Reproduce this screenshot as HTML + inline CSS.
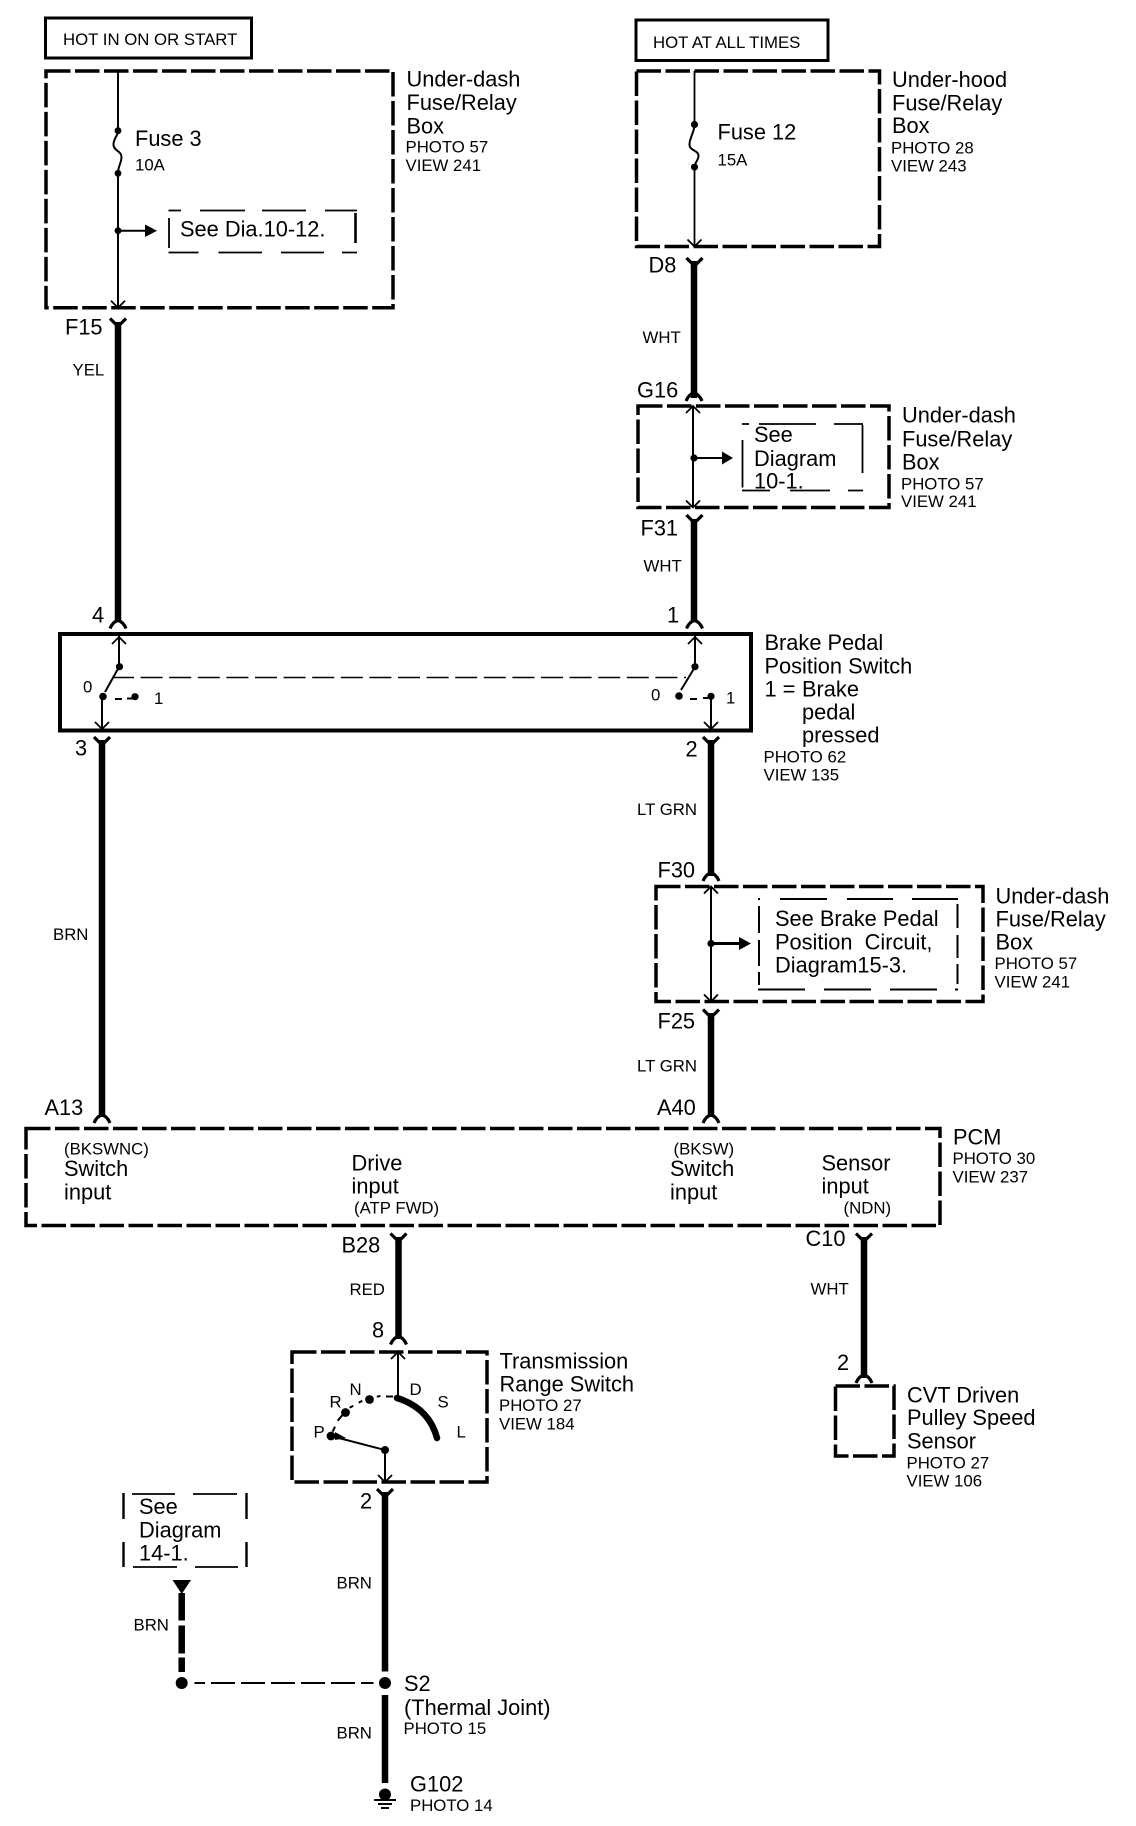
<!DOCTYPE html>
<html><head><meta charset="utf-8"><style>
html,body{margin:0;padding:0;background:#fff;width:1136px;height:1826px;overflow:hidden}
svg{display:block}
text{font-family:"Liberation Sans",sans-serif;fill:#000}
.l{font-size:21.8px}.s{font-size:16.8px}
.d{fill:none;stroke:#000;stroke-width:3.5;stroke-dasharray:24.5 4.5}
.t{fill:none;stroke:#000;stroke-width:2}
.w{fill:none;stroke:#000;stroke-width:6.5}
.c{fill:none;stroke:#000;stroke-width:3.2}
.n{fill:none;stroke:#000;stroke-width:1.8}
</style></head><body>
<svg width="1136" height="1826" viewBox="0 0 1136 1826" xmlns="http://www.w3.org/2000/svg">
<defs>
<path id="y" class="c" d="M-8,0 L0,8 L8,0"/>
<path id="a" class="c" d="M-8,8 Q-5,1 0,0 Q5,1 8,8"/>
<path id="vd" class="n" d="M-7,-7 L0,0 L7,-7"/>
<path id="vu" class="n" d="M-7,7 L0,0 L7,7"/>
</defs>

<!-- top left -->
<rect x="45.5" y="18" width="206" height="40" fill="none" stroke="#000" stroke-width="3"/>
<text class="s" x="63" y="45">HOT IN ON OR START</text>
<rect x="46" y="71" width="347" height="236.7" class="d"/>
<path class="t" d="M118,71V307.7"/>
<use href="#vd" x="118" y="307.7"/>
<circle cx="118" cy="130.7" r="3.4"/><circle cx="118" cy="173.3" r="3.4"/><circle cx="118" cy="230.7" r="3.4"/>
<path fill="#fff" d="M116,134h5v36h-5z"/>
<path class="t" d="M118,130.7 C118,136 113,139 113.5,145 C114,151 121.5,151 121.5,157 C121.5,163 118,166 118,173.3"/>
<path class="t" d="M118,230.7H148"/><path d="M145,224.5L157,230.7L145,237z"/>
<text class="l" x="135" y="146">Fuse 3</text>
<text class="s" x="135" y="170.5">10A</text>
<path class="n" d="M168.5,210.5H181M200,210.5H245M262,210.5H306M325,210.5H357M168.5,252.5H198.5M218.5,252.5H262M281,252.5H324M342,252.5H357"/>
<path class="n" d="M169,218V248"/><path stroke="#000" stroke-width="2.6" d="M355.5,213V243"/>
<text class="l" x="180" y="236.5">See Dia.10-12.</text>
<text class="l" x="406.5" y="86.5">Under-dash</text><text class="l" x="406.5" y="110">Fuse/Relay</text><text class="l" x="406.5" y="133.5">Box</text>
<text class="s" x="405.5" y="152.5">PHOTO 57</text><text class="s" x="405.5" y="171">VIEW 241</text>
<use href="#y" x="118" y="318.5"/>
<text class="l" x="65" y="334.5">F15</text>
<text class="s" x="72.5" y="375.5">YEL</text>
<path class="w" d="M118,322V622"/>
<use href="#a" x="118" y="620.5"/>
<text class="l" x="92" y="622.5">4</text>

<!-- top right -->
<rect x="636" y="20" width="192" height="40.5" fill="none" stroke="#000" stroke-width="3"/>
<text class="s" x="653" y="48">HOT AT ALL TIMES</text>
<rect x="636.5" y="71" width="243" height="175.5" class="d"/>
<path class="n" d="M694.5,71V246.5"/>
<use href="#vd" x="694.5" y="246.5"/>
<circle cx="694.5" cy="124.5" r="3.6"/><circle cx="694.5" cy="167" r="3.6"/>
<path fill="#fff" d="M692,128h5v36h-5z"/>
<path class="t" d="M694.5,124.5 C694.5,132 689,139 689.5,145 C690,151 698.5,150 698.5,156 C698.5,160 694.5,163 694.5,167"/>
<text class="l" x="717.5" y="139.5">Fuse 12</text>
<text class="s" x="717.5" y="165.5">15A</text>
<text class="l" x="892" y="87">Under-hood</text><text class="l" x="892" y="110.5">Fuse/Relay</text><text class="l" x="892" y="133">Box</text>
<text class="s" x="891" y="153.5">PHOTO 28</text><text class="s" x="891" y="171.5">VIEW 243</text>
<use href="#y" x="694.5" y="258"/>
<text class="l" x="648.5" y="272.5">D8</text>
<path class="w" d="M694,261V398"/>
<text class="s" x="642.5" y="343">WHT</text>
<use href="#a" x="694" y="393"/>
<text class="l" x="637" y="397.5">G16</text>
<rect x="638" y="406" width="251" height="101.5" class="d"/>
<path class="t" d="M693,406V507.5"/>
<use href="#vu" x="693" y="406"/><use href="#vd" x="693" y="507.5"/>
<circle cx="694" cy="458" r="3.6"/>
<path class="t" d="M694,458H724"/><path d="M722,451.5L733,458L722,464.5z"/>
<path class="n" d="M742,424H749M759,424H816M834,424H863M742,490.5H770M790,490.5H830M848,490.5H863"/>
<path class="n" d="M742.5,440V487.5M862.5,425V473"/>
<text class="l" x="754" y="442">See</text><text class="l" x="754" y="466">Diagram</text><text class="l" x="754" y="488.5">10-1.</text>
<text class="l" x="902" y="422.5">Under-dash</text><text class="l" x="902" y="446.5">Fuse/Relay</text><text class="l" x="902" y="469.5">Box</text>
<text class="s" x="901" y="489.5">PHOTO 57</text><text class="s" x="901" y="507">VIEW 241</text>
<use href="#y" x="694.5" y="515"/>
<text class="l" x="640.5" y="535.5">F31</text>
<path class="w" d="M694,519V622"/>
<text class="s" x="643.5" y="571.5">WHT</text>
<use href="#a" x="694.5" y="620.5"/>
<text class="l" x="667" y="622.5">1</text>

<!-- brake switch -->
<rect x="60" y="634" width="691" height="96.5" fill="none" stroke="#000" stroke-width="4"/>
<path class="t" d="M119,636V666"/><use href="#vu" x="119" y="637"/>
<circle cx="119.5" cy="666.7" r="3.6"/>
<path class="t" stroke-width="2.5" d="M119,667L105,692"/>
<circle cx="103" cy="696.5" r="3.8"/>
<path class="t" d="M102,697V729"/><use href="#vd" x="102" y="729"/>
<path class="t" stroke-width="2.5" d="M115,699H122M127,698.5H133"/><circle cx="135" cy="696.7" r="3.6"/>
<path stroke="#000" stroke-width="1.6" stroke-dasharray="22 6.6" d="M112,677.5H686"/>
<text class="s" x="83" y="692.5">0</text><text class="s" x="154" y="704">1</text>
<path class="t" d="M695,636V666"/><use href="#vu" x="695" y="637"/>
<circle cx="695" cy="666.7" r="3.6"/>
<path class="t" stroke-width="2.5" d="M695,667L681,690"/>
<circle cx="679" cy="696" r="3.8"/>
<path class="t" stroke-width="2.5" d="M690,699H697M703,698H708"/><circle cx="711" cy="696.3" r="3.6"/>
<path class="t" d="M711,696V729"/><use href="#vd" x="711" y="729"/>
<text class="s" x="651" y="700.5">0</text><text class="s" x="726" y="703.5">1</text>
<text class="l" x="764.5" y="650">Brake Pedal</text><text class="l" x="764.5" y="673.5">Position Switch</text>
<text class="l" x="764.5" y="696.5">1 =</text><text class="l" x="802" y="696.5">Brake</text>
<text class="l" x="802" y="719.5">pedal</text><text class="l" x="802" y="742.5">pressed</text>
<text class="s" x="763.5" y="762.5">PHOTO 62</text><text class="s" x="763.5" y="780.5">VIEW 135</text>

<!-- left lower wire -->
<use href="#y" x="102" y="737"/>
<text class="l" x="75" y="755.5">3</text>
<path class="w" d="M102,740V1117"/>
<text class="s" x="53" y="940">BRN</text>
<use href="#a" x="102" y="1115"/>
<text class="l" x="44.5" y="1115">A13</text>

<!-- right lower wire -->
<use href="#y" x="711" y="737"/>
<text class="l" x="685.5" y="756.5">2</text>
<path class="w" d="M711,740V876"/>
<text class="s" x="637" y="815">LT GRN</text>
<use href="#a" x="711" y="873"/>
<text class="l" x="657.5" y="877.5">F30</text>
<rect x="656" y="886.5" width="327" height="115" class="d"/>
<path class="t" d="M711,886.5V1001.5"/>
<use href="#vu" x="711" y="886.5"/><use href="#vd" x="711" y="1001.5"/>
<circle cx="711" cy="943.5" r="3.6"/>
<path stroke="#000" stroke-width="3" d="M711,943.5H742"/><path d="M739,937L751,943.5L739,950z"/>
<path class="t" d="M758,899H760M780,899H827M847,899H893M912,899H958M758,989.5H805M824,989.5H871M890,989.5H937M955,989.5H958"/>
<path class="t" d="M759,906V933M759,940V966M759,972V985"/>
<path class="t" d="M957.5,904V928M957.5,935V958M957.5,964V984"/>
<text class="l" x="775" y="926">See Brake Pedal</text>
<text class="l" x="775" y="949.5" xml:space="preserve">Position  Circuit,</text>
<text class="l" x="775" y="972.5">Diagram15-3.</text>
<text class="l" x="995.5" y="903.5">Under-dash</text><text class="l" x="995.5" y="926.5">Fuse/Relay</text><text class="l" x="995.5" y="949.5">Box</text>
<text class="s" x="994.5" y="969">PHOTO 57</text><text class="s" x="994.5" y="987.5">VIEW 241</text>
<use href="#y" x="711" y="1009.5"/>
<text class="l" x="657.5" y="1028.5">F25</text>
<path class="w" d="M711,1013V1117"/>
<text class="s" x="637" y="1071.5">LT GRN</text>
<use href="#a" x="711" y="1115"/>
<text class="l" x="657" y="1115">A40</text>

<!-- PCM -->
<rect x="26" y="1128.5" width="914" height="97" class="d"/>
<text class="s" x="64" y="1154.5">(BKSWNC)</text><text class="l" x="64" y="1176">Switch</text><text class="l" x="64" y="1199.5">input</text>
<text class="l" x="351.5" y="1170.5">Drive</text><text class="l" x="351.5" y="1193.5">input</text><text class="s" x="354" y="1213.5">(ATP FWD)</text>
<text class="s" x="673.5" y="1154.5">(BKSW)</text><text class="l" x="670" y="1176">Switch</text><text class="l" x="670" y="1199.5">input</text>
<text class="l" x="821.5" y="1170.5">Sensor</text><text class="l" x="821.5" y="1193.5">input</text><text class="s" x="843.5" y="1213.5">(NDN)</text>
<text class="l" x="953" y="1144.5">PCM</text><text class="s" x="952.5" y="1164">PHOTO 30</text><text class="s" x="952.5" y="1182.5">VIEW 237</text>

<!-- B28 wire -->
<use href="#y" x="398.5" y="1233.5"/>
<text class="l" x="341.5" y="1252.5">B28</text>
<path class="w" d="M398.5,1237V1339"/>
<text class="s" x="349.5" y="1295">RED</text>
<use href="#a" x="398.5" y="1336.5"/>
<text class="l" x="372" y="1337.5">8</text>

<!-- trans range -->
<rect x="292" y="1352" width="195" height="130" class="d"/>
<path class="t" d="M398,1352V1397"/><use href="#vu" x="398" y="1352"/>
<path class="w" stroke-width="7" stroke-linecap="round" d="M397,1398 Q429,1408 437,1438"/>
<circle cx="369.5" cy="1399.5" r="4.4"/><circle cx="345.5" cy="1412.5" r="4.4"/><circle cx="331" cy="1436" r="4.4"/><circle cx="385" cy="1450" r="4"/>
<path class="t" d="M386,1396.5H393M376.8,1396.7L380.4,1396M358.7,1402.7L362.3,1400.7M349.6,1407.7L353.3,1405.7M337.7,1420.7L342.4,1415M332.6,1431.7L335,1426.7"/>
<path class="t" stroke-width="2.6" d="M331,1436L385,1450"/>
<path d="M335,1432L346,1438L335,1440z"/>
<path class="t" d="M385,1450V1482"/><use href="#vd" x="385" y="1482"/>
<text class="s" x="349.5" y="1395">N</text><text class="s" x="409.5" y="1395">D</text>
<text class="s" x="329.5" y="1407.5">R</text><text class="s" x="437.5" y="1407.5">S</text>
<text class="s" x="313.5" y="1437.5">P</text><text class="s" x="456.5" y="1437.5">L</text>
<text class="l" x="499.5" y="1368.5">Transmission</text><text class="l" x="499.5" y="1391.5">Range Switch</text>
<text class="s" x="499" y="1411">PHOTO 27</text><text class="s" x="499" y="1429.5">VIEW 184</text>

<!-- C10 wire -->
<use href="#y" x="864" y="1233.5"/>
<text class="l" x="805.5" y="1246">C10</text>
<path class="w" d="M864,1237V1378"/>
<text class="s" x="810.5" y="1294.5">WHT</text>
<use href="#a" x="864" y="1375"/>
<text class="l" x="837" y="1370">2</text>
<rect x="835.5" y="1386" width="58.5" height="70" class="d"/>
<text class="l" x="907" y="1402.5">CVT Driven</text><text class="l" x="907" y="1425">Pulley Speed</text><text class="l" x="907" y="1448.5">Sensor</text>
<text class="s" x="906.5" y="1468.5">PHOTO 27</text><text class="s" x="906.5" y="1486.5">VIEW 106</text>

<!-- bottom -->
<use href="#y" x="385" y="1489"/>
<text class="l" x="360" y="1508.5">2</text>
<path class="w" d="M385,1492V1671.5M385,1695V1783"/>
<text class="s" x="336.5" y="1588.5">BRN</text>
<text class="s" x="336.5" y="1738.5">BRN</text>
<circle cx="385" cy="1683" r="6"/>
<circle cx="385" cy="1794.5" r="6"/>
<path class="t" d="M374,1800H396M378,1804H392M381,1808H389" stroke-width="1.6"/>
<text class="l" x="404" y="1691">S2</text><text class="l" x="404" y="1715">(Thermal Joint)</text>
<text class="s" x="403.5" y="1734">PHOTO 15</text>
<text class="l" x="410" y="1791.5">G102</text><text class="s" x="410" y="1811">PHOTO 14</text>
<path stroke="#000" stroke-width="2.4" d="M123.5,1493V1519M123.5,1542V1567M246.5,1493V1519M246.5,1542V1567"/>
<path class="n" d="M132,1494H175M193,1494H237M133,1567H177M195,1567H238"/>
<text class="l" x="139" y="1514">See</text><text class="l" x="139" y="1537.5">Diagram</text><text class="l" x="139" y="1560.5">14-1.</text>
<path d="M172.5,1580H191L181.7,1594z"/>
<path class="w" d="M181.7,1593V1620.5M181.7,1625.5V1653.5M181.7,1657.5V1672"/>
<text class="s" x="133.5" y="1630.5">BRN</text>
<circle cx="181.7" cy="1683" r="6"/>
<path class="t" d="M194.5,1683H205M211,1683H235M241,1683H265M271,1683H295M301,1683H325M331,1683H355M361,1683H373.5"/>
</svg>
</body></html>
